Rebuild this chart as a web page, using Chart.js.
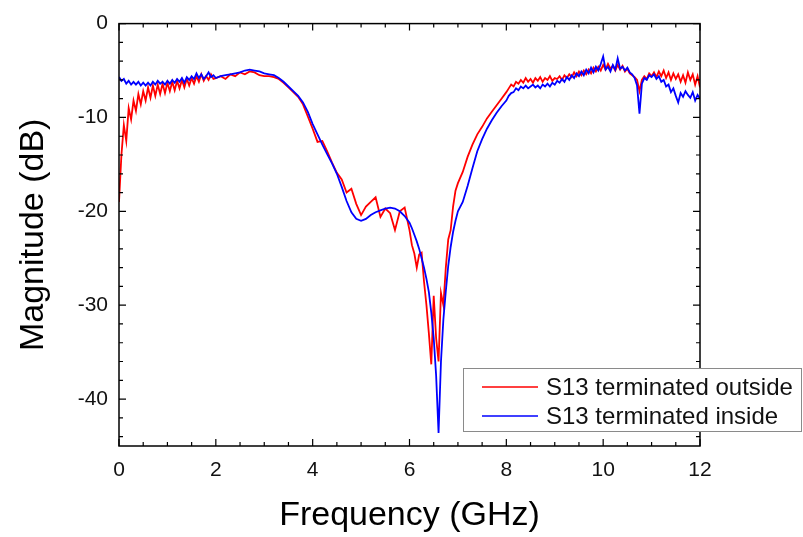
<!DOCTYPE html>
<html>
<head>
<meta charset="utf-8">
<script src="https://cdn.jsdelivr.net/npm/chart.js@4.4.0/dist/chart.umd.min.js"></script>
<style>
  body { margin: 0; background: #fff; }
  #wrap { width: 803px; height: 537px; }
</style>
</head>
<body>
<div id="wrap"><canvas id="myChart" width="803" height="537"></canvas></div>
<script>
// frequency points (GHz)
const freq = [
  0, 0.05, 0.1, 0.15, 0.2, 0.25, 0.3, 0.35, 0.4, 0.45,
  0.5, 0.55, 0.6, 0.65, 0.7, 0.75, 0.8, 0.85, 0.9, 0.95,
  1, 1.05, 1.1, 1.15, 1.2, 1.25, 1.3, 1.35, 1.4, 1.45,
  1.5, 1.55, 1.6, 1.65, 1.7, 1.75, 1.8, 1.85, 1.9, 1.95, 2,
  2.1, 2.2, 2.3, 2.4, 2.5, 2.6, 2.7, 2.8, 2.9, 3.0,
  3.1, 3.2, 3.3, 3.4, 3.5, 3.6, 3.7, 3.8, 3.9, 4.0,
  4.1, 4.2, 4.3, 4.4, 4.5, 4.6, 4.7, 4.8, 4.9, 5.0,
  5.1, 5.2, 5.3, 5.4, 5.5, 5.6, 5.7, 5.8, 5.9, 6.0,
  6.05, 6.1, 6.15, 6.2, 6.25, 6.3, 6.35, 6.4, 6.45, 6.5,
  6.55, 6.6, 6.65, 6.7, 6.75, 6.8, 6.85, 6.9, 6.95, 7.0,
  7.1, 7.2, 7.3, 7.4, 7.5, 7.6, 7.7, 7.8, 7.9, 8.0,
  8.05, 8.1, 8.15, 8.2, 8.25, 8.3, 8.35, 8.4, 8.45, 8.5,
  8.55, 8.6, 8.65, 8.7, 8.75, 8.8, 8.85, 8.9, 8.95, 9.0,
  9.05, 9.1, 9.15, 9.2, 9.25, 9.3, 9.35, 9.4, 9.45, 9.5,
  9.55, 9.6, 9.65, 9.7, 9.75, 9.8, 9.85, 9.9, 9.95, 10.0,
  10.05, 10.1, 10.15, 10.2, 10.25, 10.3, 10.35, 10.4, 10.45, 10.5,
  10.55, 10.6, 10.65, 10.7, 10.75, 10.8, 10.85, 10.9, 10.95, 11.0,
  11.05, 11.1, 11.15, 11.2, 11.25, 11.3, 11.35, 11.4, 11.45, 11.5,
  11.55, 11.6, 11.65, 11.7, 11.75, 11.8, 11.85, 11.9, 11.95, 12.0
];

// S13 terminated outside (dB)
const magOutside = [
  -19.0, -14.0, -10.8, -12.5, -9.0, -10.2, -8.2, -9.3, -7.5, -8.6,
  -7.2, -8.2, -6.8, -7.9, -6.6, -7.7, -6.5, -7.5, -6.4, -7.4,
  -6.3, -7.2, -6.2, -7.1, -6.1, -6.9, -6.0, -6.8, -5.9, -6.6,
  -5.8, -6.4, -5.6, -6.2, -5.4, -6.1, -5.6, -6.0, -5.4, -5.9, -5.8,
  -5.6, -5.9, -5.4, -5.6, -5.2, -5.4, -5.1, -5.2, -5.5, -5.6,
  -5.6, -5.7, -5.9, -6.3, -6.8, -7.3, -7.8, -8.6, -9.9, -11.2,
  -12.6, -12.5, -13.6, -14.8, -15.9, -16.6, -18.0, -17.6, -19.2, -20.4,
  -19.5, -19.0, -18.5, -20.6, -19.7, -20.2, -22.0, -20.0, -19.6, -22.0,
  -23.6, -24.5, -26.0, -24.6, -24.4, -27.5, -30.0, -33.0, -36.3, -29.0,
  -33.5, -36.0, -28.7, -30.0, -26.0, -23.0, -22.0, -19.5, -17.8, -17.0,
  -15.8, -14.2, -12.9, -11.8, -11.0, -10.1, -9.4, -8.7, -8.0, -7.3,
  -6.9, -6.5, -6.7, -6.2, -6.4, -6.0, -6.3, -5.8, -6.2, -5.9,
  -6.3, -5.8, -6.1, -5.7, -6.2, -5.8, -6.0, -5.6, -6.1, -5.8,
  -5.9, -5.6, -6.0, -5.5, -5.8, -5.4, -5.7, -5.2, -5.6, -5.1,
  -5.5, -5.0, -5.4, -4.9, -5.3, -4.7, -5.1, -4.6, -5.0, -4.4,
  -4.9, -4.3, -4.8, -4.5, -5.0, -4.4, -4.9, -4.5, -5.1, -4.8,
  -5.3, -5.5, -5.7, -6.0, -7.2, -6.0, -5.6, -5.9, -5.3, -5.6,
  -5.2, -5.7, -5.1, -5.6, -5.0, -5.8, -5.2, -6.0, -5.3, -5.9,
  -5.4, -6.2, -5.5, -6.3, -5.2, -6.0, -5.4, -6.5, -5.6, -6.8
];

// S13 terminated inside (dB)
const magInside = [
  -5.7, -6.1, -5.9, -6.4, -6.1, -6.5, -6.2, -6.5, -6.2, -6.6,
  -6.3, -6.6, -6.3, -6.6, -6.2, -6.5, -6.1, -6.4, -6.2, -6.5,
  -6.1, -6.4, -6.0, -6.3, -5.9, -6.2, -5.8, -6.3, -5.7, -6.0,
  -5.6, -5.9, -5.3, -5.8, -5.4, -5.9, -5.6, -5.2, -5.7, -5.5, -5.8,
  -5.6, -5.5, -5.4, -5.3, -5.2, -5.0, -4.9, -5.0, -5.1, -5.3,
  -5.4, -5.5, -5.8, -6.2, -6.7, -7.2, -7.7, -8.4, -9.4, -10.7,
  -11.8, -12.9, -13.9, -14.9, -16.0, -17.4, -18.9, -20.1, -20.8, -21.0,
  -20.8, -20.4, -20.1, -19.9, -19.7, -19.6, -19.7, -20.0, -20.5, -21.2,
  -21.8, -22.5, -23.2, -24.0, -25.0, -26.0, -27.2, -28.6, -30.8, -33.5,
  -37.5, -43.6, -36.0, -31.5, -28.5, -25.8, -23.8, -22.2, -21.0, -20.0,
  -19.0, -17.3, -15.4, -13.6, -12.3, -11.2, -10.3, -9.5, -8.8, -8.2,
  -7.7, -7.4, -7.3, -6.9, -7.1, -6.7, -6.9, -6.6, -6.9, -6.7,
  -6.5, -6.8, -6.6, -6.9, -6.5, -6.7, -6.4, -6.7, -6.3, -6.5,
  -6.1, -6.3, -5.9, -6.2, -5.7, -6.0, -5.5, -5.8, -5.3, -5.6,
  -5.1, -5.5, -4.9, -5.3, -4.7, -5.2, -4.6, -5.0, -4.3, -3.5,
  -4.9, -4.6, -5.1, -4.4, -4.9, -3.7, -4.8, -4.6, -5.0, -4.7,
  -5.2, -5.4, -5.8, -6.6, -9.6, -6.4, -5.8, -6.0, -5.5, -5.7,
  -5.4, -5.9, -5.6, -6.2, -6.0, -6.7, -6.5, -7.3, -6.9, -7.7,
  -8.4, -7.4, -7.8, -7.2, -7.6, -7.9, -7.3, -8.2, -7.6, -8.0
];

const xTicks = [0, 2, 4, 6, 8, 10, 12];
const yTicks = [0, -10, -20, -30, -40];
const seriesNames = ['S13 terminated outside', 'S13 terminated inside'];

const FONT = 'Liberation Sans, Arial, Helvetica, sans-serif';

// box frame with inward ticks on all four sides
const framePlugin = {
  id: 'frame',
  afterDraw(chart) {
    const { ctx, chartArea: { left, right, top, bottom }, scales: { x, y } } = chart;
    ctx.save();
    ctx.strokeStyle = '#000';
    ctx.lineWidth = 1.5;
    ctx.strokeRect(left, top, right - left, bottom - top);
    ctx.lineWidth = 1.2;
    ctx.beginPath();
    for (let i = 0; i <= 24; i++) {
      const px = x.getPixelForValue(i * 0.5);
      const len = i % 4 === 0 ? 7 : 4;
      ctx.moveTo(px, bottom); ctx.lineTo(px, bottom - len);
      ctx.moveTo(px, top); ctx.lineTo(px, top + len);
    }
    for (let i = 0; i <= 22; i++) {
      const py = y.getPixelForValue(-i * 2);
      const len = i % 5 === 0 ? 7 : 4;
      ctx.moveTo(left, py); ctx.lineTo(left + len, py);
      ctx.moveTo(right, py); ctx.lineTo(right - len, py);
    }
    ctx.stroke();
    ctx.restore();
  }
};

// boxed legend in the lower right
const legendPlugin = {
  id: 'boxLegend',
  afterDraw(chart) {
    const ctx = chart.ctx;
    const bx = 463, by = 368, bw = 338, bh = 63;
    ctx.save();
    ctx.fillStyle = '#fff';
    ctx.fillRect(bx, by, bw, bh);
    ctx.strokeStyle = '#8a8a8a';
    ctx.lineWidth = 1;
    ctx.strokeRect(bx + 0.5, by + 0.5, bw, bh);
    ctx.font = '24px ' + FONT;
    ctx.textBaseline = 'middle';
    ctx.fillStyle = '#111';
    const rows = [387, 416];
    chart.data.datasets.forEach((ds, i) => {
      ctx.strokeStyle = ds.borderColor;
      ctx.lineWidth = 1.5;
      ctx.beginPath();
      ctx.moveTo(482, rows[i]);
      ctx.lineTo(538, rows[i]);
      ctx.stroke();
      ctx.fillText(ds.label, 546, rows[i] + 1);
    });
    ctx.restore();
  }
};

const ctx = document.getElementById('myChart').getContext('2d');
const myChart = new Chart(ctx, {
  type: 'line',
  data: {
    datasets: [{
      label: seriesNames[0],
      data: freq.map((f, i) => ({ x: f, y: magOutside[i] })),
      borderColor: '#ff0000',
      borderWidth: 1.8,
      pointRadius: 0,
      tension: 0,
      order: 1
    }, {
      label: seriesNames[1],
      data: freq.map((f, i) => ({ x: f, y: magInside[i] })),
      borderColor: '#0000ff',
      borderWidth: 1.8,
      pointRadius: 0,
      tension: 0,
      order: 0
    }]
  },
  options: {
    responsive: false,
    animation: false,
    devicePixelRatio: 1,
    layout: { padding: { left: 0, top: 18, right: 103, bottom: 0 } },
    plugins: { legend: { display: false }, tooltip: { enabled: false } },
    scales: {
      x: {
        type: 'linear',
        min: 0, max: 12,
        afterBuildTicks: s => { s.ticks = xTicks.map(v => ({ value: v })); },
        afterFit: s => { s.height = 91; },
        grid: { drawOnChartArea: false, drawTicks: false },
        border: { display: false },
        ticks: { padding: 12, color: '#111', font: { family: FONT, size: 21 }, maxRotation: 0 },
        title: { display: true, text: 'Frequency (GHz)', color: '#000',
                 font: { family: FONT, size: 34 }, padding: { top: 0, bottom: 1 } }
      },
      y: {
        type: 'linear',
        min: -45, max: 0,
        afterBuildTicks: s => { s.ticks = yTicks.map(v => ({ value: v })); },
        afterFit: s => { s.width = 119; },
        grid: { drawOnChartArea: false, drawTicks: false },
        border: { display: false },
        ticks: { padding: 11, color: '#111', font: { family: FONT, size: 21 } },
        title: { display: true, text: 'Magnitude (dB)', color: '#000',
                 font: { family: FONT, size: 34 }, padding: { top: 13, bottom: 0 } }
      }
    }
  },
  plugins: [framePlugin, legendPlugin]
});
</script>
</body>
</html>
